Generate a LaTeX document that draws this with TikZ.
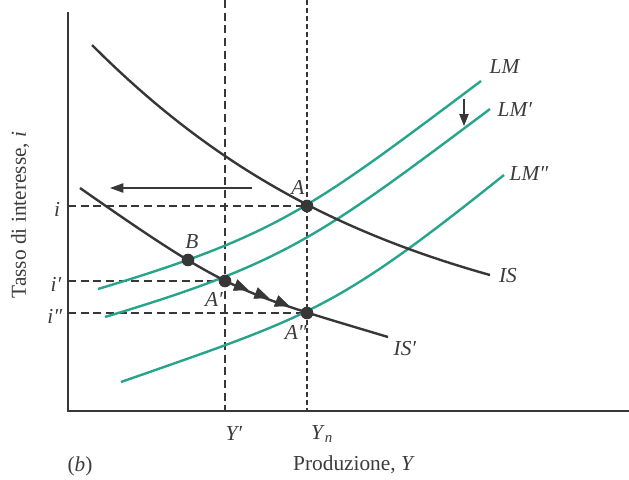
\documentclass[tikz,border=0pt]{standalone}
\usepackage{fontspec}
\setmainfont{Liberation Serif}
\usetikzlibrary{arrows.meta,decorations.markings}
\definecolor{teal1}{RGB}{38,164,140}
\definecolor{dark}{RGB}{55,55,55}
\definecolor{txt}{RGB}{60,60,60}
\begin{document}
\begin{tikzpicture}[x=0.75pt,y=-0.75pt,
  font=\fontsize{16}{19}\selectfont,
  iscurve/.style={line width=1.8pt, dark},
  lmcurve/.style={line width=1.8pt, teal1},
  axis/.style={line width=1.1pt, dark},
  guide/.style={line width=0.9pt, dark, dash pattern=on 6pt off 3.5pt},
  guidefine/.style={line width=0.9pt, dark, dash pattern=on 3.5pt off 2.5pt},
  dot/.style={circle, fill=dark, inner sep=0pt, minimum size=9.5pt},
  lbl/.style={text=txt, inner sep=0pt},
  thinarrow/.style={line width=0.9pt, dark},
  midtip/.style={dark}]
\useasboundingbox (0,0) rectangle (629,479);

% key points
\coordinate (O) at (68,411);
\coordinate (Ytop) at (68,12);
\coordinate (Xend) at (629,411);
\coordinate (A) at (307,206);
\coordinate (Ap) at (225,281);
\coordinate (App) at (307,313);
\coordinate (B) at (188,260);
\coordinate (Yptop) at (225,0);
\coordinate (Yp) at (225,411);
\coordinate (Yntop) at (307,0);
\coordinate (Yn) at (307,411);
\coordinate (ia) at (68,206);
\coordinate (ib) at (68,281);
\coordinate (ic) at (68,313);

% guides
\draw[guide] (Yptop) -- (Yp);
\draw[guidefine] (Yntop) -- (Yn);
\draw[guide] (ia) -- (A);
\draw[guide] (ib) -- (Ap);
\draw[guide] (ic) -- (App);

% axes
\draw[axis] (Ytop) -- (O) -- (Xend);

% LM curves
\coordinate (LMs) at (98,289);   \coordinate (LMe) at (481,81);
\coordinate (LMpS) at (105,317); \coordinate (LMpE) at (490,109);
\coordinate (LMppS) at (121,382);\coordinate (LMppE) at (504,175);
\draw[lmcurve] (LMs) .. controls (278,235) and (311,208.5) .. (LMe);
\draw[lmcurve] (LMpS) .. controls (285,263) and (320,236.5) .. (LMpE);
\draw[lmcurve] (LMppS) .. controls (311,315.5) and (334,311) .. (LMppE);

% IS curves
\coordinate (ISs) at (92,45);   \coordinate (ISe) at (490,275);
\coordinate (ISpS) at (80,188); \coordinate (ISpE) at (388,337);
\draw[iscurve] (ISs) .. controls (202,155) and (320,227.4) .. (ISe);
\draw[iscurve] (ISpS) .. controls (230,293) and (238,292) .. (ISpE);

% arrows
\coordinate (la1) at (252,188);
\coordinate (la2) at (110,188);
\draw[thinarrow, -{Triangle[length=10pt,width=7pt]}] (la1) -- (la2);
\coordinate (da1) at (464,99);
\coordinate (da2) at (464,126);
\draw[thinarrow, -{Triangle[length=9pt,width=7pt]}] (da1) -- (da2);
\path[decoration={markings,
   mark=at position 0.29 with {\arrow[midtip]{Triangle[length=11pt,width=9pt]}},
   mark=at position 0.54 with {\arrow[midtip]{Triangle[length=11pt,width=9pt]}},
   mark=at position 0.79 with {\arrow[midtip]{Triangle[length=11pt,width=9pt]}}},
   decorate] (Ap) -- (App);

% dots
\node[dot] (dA) at (A) {};
\node[dot] (dAp) at (Ap) {};
\node[dot] (dApp) at (App) {};
\node[dot] (dB) at (B) {};

% labels
\node[lbl] (lA) at (298,187) {\textit{A}};
\node[lbl] (lAp) at (214,299) {\textit{A′}};
\node[lbl] (lApp) at (296,332) {\textit{A″}};
\node[lbl] (lB) at (192,242) {\textit{B}};
\node[lbl] (lLM) at (505,67) {\textit{LM}};
\node[lbl] (lLMp) at (515,110) {\textit{LM′}};
\node[lbl] (lLMpp) at (529,174) {\textit{LM″}};
\node[lbl] (lIS) at (508,276) {\textit{IS}};
\node[lbl] (lISp) at (405,349) {\textit{IS′}};
\node[lbl] (li) at (57,209) {\textit{i}};
\node[lbl] (lip) at (56,284) {\textit{i′}};
\node[lbl] (lipp) at (55,316) {\textit{i″}};
\node[lbl] (lYp) at (234,434) {\textit{Y′}};
\node[lbl] (lYn) at (322,434) {\textit{Y}\textsubscript{\textit{n}}};
\node[lbl] (lb) at (80,466) {(\textit{b})};
\node[lbl] (lX) at (354,465) {Produzione, \textit{Y}};
\node[lbl, rotate=90] (lY) at (20,215) {Tasso di interesse, \textit{i}};
\end{tikzpicture}
\end{document}
